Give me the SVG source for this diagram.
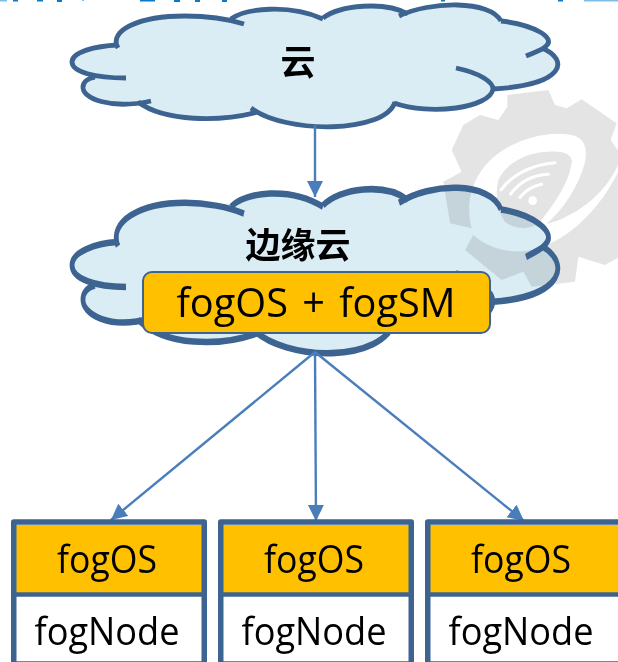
<svg xmlns="http://www.w3.org/2000/svg" width="618" height="662" viewBox="0 0 618 662">
<style>
.cl{fill:#DBEDF4;mix-blend-mode:multiply}
.ol{fill:none;stroke:#3D6391;stroke-width:4.8;stroke-linecap:butt;vector-effect:non-scaling-stroke}
.con{fill:none;stroke:#4A7EBB;stroke-width:2.4}
.t{font-family:"Open Sans","Noto Sans",sans-serif;fill:#000;text-anchor:middle;font-size:38px}
.h{font-family:"Noto Sans CJK SC",sans-serif;font-weight:700;font-size:35px;fill:#000;text-anchor:middle}
.fr{fill:none;stroke:#3D6391;stroke-width:5.5;stroke-linejoin:round}
.go{fill:#FFC000}
.wm{fill:#E4E4E4}
.wh{fill:#fff}
.fg{fill:#0B78C8}
</style>
<defs>
<filter id="soft" x="-5%" y="-5%" width="110%" height="110%"><feGaussianBlur stdDeviation="2"/></filter>
<marker id="ah" markerUnits="userSpaceOnUse" markerWidth="18" markerHeight="18" refX="16" refY="8" orient="auto"><path d="M0 0L16 8L0 16Z" fill="#4A7EBB"/></marker>
<path id="cf" d="M118 48C108 30 140 16 185 16C205 16 222 18 231 17C245 8 290 4 323 17C340 5 385 1 408 13C430 1 490 0 501 20C535 25 556 35 542 48C570 60 565 85 493 89C500 105 450 116 395 103C385 134 285 134 251 110C220 122 165 122 138 102C100 108 80 98 83 87C85 80 90 78 95 77C70 75 62 55 83 50C95 47 105 46 118 48Z"/>
<g id="co">
<path d="M118 48C108 30 140 16 185 16C205 16 228 19 244 24"/>
<path d="M231 19C245 8 290 4 323 19"/>
<path d="M323 18C340 5 385 1 408 14"/>
<path d="M399 16C430 1 490 0 501 21"/>
<path d="M501 21C535 25 556 38 546 46C543 50 535 52 526 56"/>
<path d="M542 48C570 60 565 85 493 89"/>
<path d="M456 68C480 73 493 82 493 89C490 108 430 116 394 103"/>
<path d="M395 102C385 134 285 134 251 108"/>
<path d="M258 112C220 122 165 122 138 102"/>
<path d="M151 101C110 110 82 98 83 87C83 82 88 78 95 77"/>
<path d="M126 78C95 78 72 72 72 62C72 52 95 46 118 45"/>
</g>
</defs>
<g id="watermark" transform="translate(420 90) scale(.33333)" filter="url(#soft)">
<path class="wm" d="M70 275L125 245L95 180L130 105L180 75L235 90L262 50L262 15L385 0L405 45L440 55L485 28L590 100L572 150L600 190L600 500L555 525L475 500L465 575L335 590L310 545L245 570L135 480L160 435L155 415L90 400Z"/>
<path class="wh" d="M155 415C130 320 170 230 250 180C320 135 420 120 470 140C505 155 505 205 480 260C455 320 420 365 380 402C450 385 560 320 600 210L600 235C550 340 470 430 370 470C290 500 210 480 160 435Z"/>
<path class="wm" d="M235 270C255 225 310 192 370 186C425 180 460 190 455 220C445 285 400 345 360 395C335 420 285 420 255 395C230 360 225 310 235 270Z"/>
<path d="M243 300C275 255 340 222 405 218M272 312C300 275 340 255 385 253M300 322C318 300 340 288 365 283" fill="none" stroke="#fff" stroke-width="9" stroke-linecap="round"/>
<circle cx="338" cy="332" r="13" fill="#fff"/>
</g>
<g id="header-fragments" class="fg">
<rect x="0" y="0" width="7" height="1.5" fill="#7FBDE8"/><rect x="13" y="0" width="5" height="1.5"/><rect x="37" y="0" width="6" height="1.5"/><rect x="57" y="0" width="5" height="2"/><rect x="82" y="0" width="2" height="1" fill="#7FBDE8"/><rect x="140" y="0" width="15" height="1.5"/><rect x="174" y="0" width="6" height="2"/><rect x="195" y="0" width="5" height="2"/><rect x="222" y="0" width="5" height="2"/><rect x="441" y="0" width="4" height="1.5"/><rect x="558" y="0" width="5" height="1.5"/><rect x="584" y="0" width="34" height="1.5" fill="#7FBDE8"/>
</g>
<g id="cloud">
<use href="#cf" class="cl"/>
<use href="#co" class="ol"/>
<text class="h" x="298" y="75">云</text>
</g>
<g id="edge-cloud">
<g transform="translate(0 181) scale(1 1.358)">
<use href="#cf" class="cl"/>
<use href="#co" class="ol"/>
</g>
<text class="h" x="298" y="258">边缘云</text>
<rect x="143" y="272" width="347" height="61" rx="9" fill="#FFC000" stroke="#3D6391" stroke-width="2"/>
<text class="t" x="316" y="317" style="font-size:41px;word-spacing:4px" textLength="279" lengthAdjust="spacingAndGlyphs">fogOS + fogSM</text>
</g>
<g id="connectors">
<path class="con" d="M315 125V197" marker-end="url(#ah)"/>
<path class="con" d="M315 352L111 520" marker-end="url(#ah)"/>
<path class="con" d="M315 352L316 521" marker-end="url(#ah)"/>
<path class="con" d="M315 352L524 521" marker-end="url(#ah)"/>
</g>
<g id="node1">
<rect class="go" x="16" y="525" width="186" height="68"/><rect class="wh" x="16" y="596" width="186" height="65"/>
<rect class="fr" x="13.75" y="522" width="190.5" height="142"/>
<path d="M16 594.5H202" stroke="#3D6391" stroke-width="4.5"/>
<text class="t" x="107" y="573" textLength="100" lengthAdjust="spacingAndGlyphs">fogOS</text>
<text class="t" x="107" y="645" textLength="145" lengthAdjust="spacingAndGlyphs">fogNode</text>
</g>
<g id="node2">
<rect class="go" x="223" y="525" width="186" height="68"/><rect class="wh" x="223" y="596" width="186" height="65"/>
<rect class="fr" x="220.75" y="522" width="190.5" height="142"/>
<path d="M223 594.5H409" stroke="#3D6391" stroke-width="4.5"/>
<text class="t" x="314" y="573" textLength="100" lengthAdjust="spacingAndGlyphs">fogOS</text>
<text class="t" x="314" y="645" textLength="145" lengthAdjust="spacingAndGlyphs">fogNode</text>
</g>
<g id="node3">
<rect class="go" x="430" y="525" width="188" height="68"/><rect class="wh" x="430" y="596" width="188" height="65"/>
<rect class="fr" x="427.75" y="522" width="196" height="142"/>
<path d="M430 594.5H618" stroke="#3D6391" stroke-width="4.5"/>
<text class="t" x="521" y="573" textLength="100" lengthAdjust="spacingAndGlyphs">fogOS</text>
<text class="t" x="521" y="645" textLength="145" lengthAdjust="spacingAndGlyphs">fogNode</text>
</g>
</svg>
